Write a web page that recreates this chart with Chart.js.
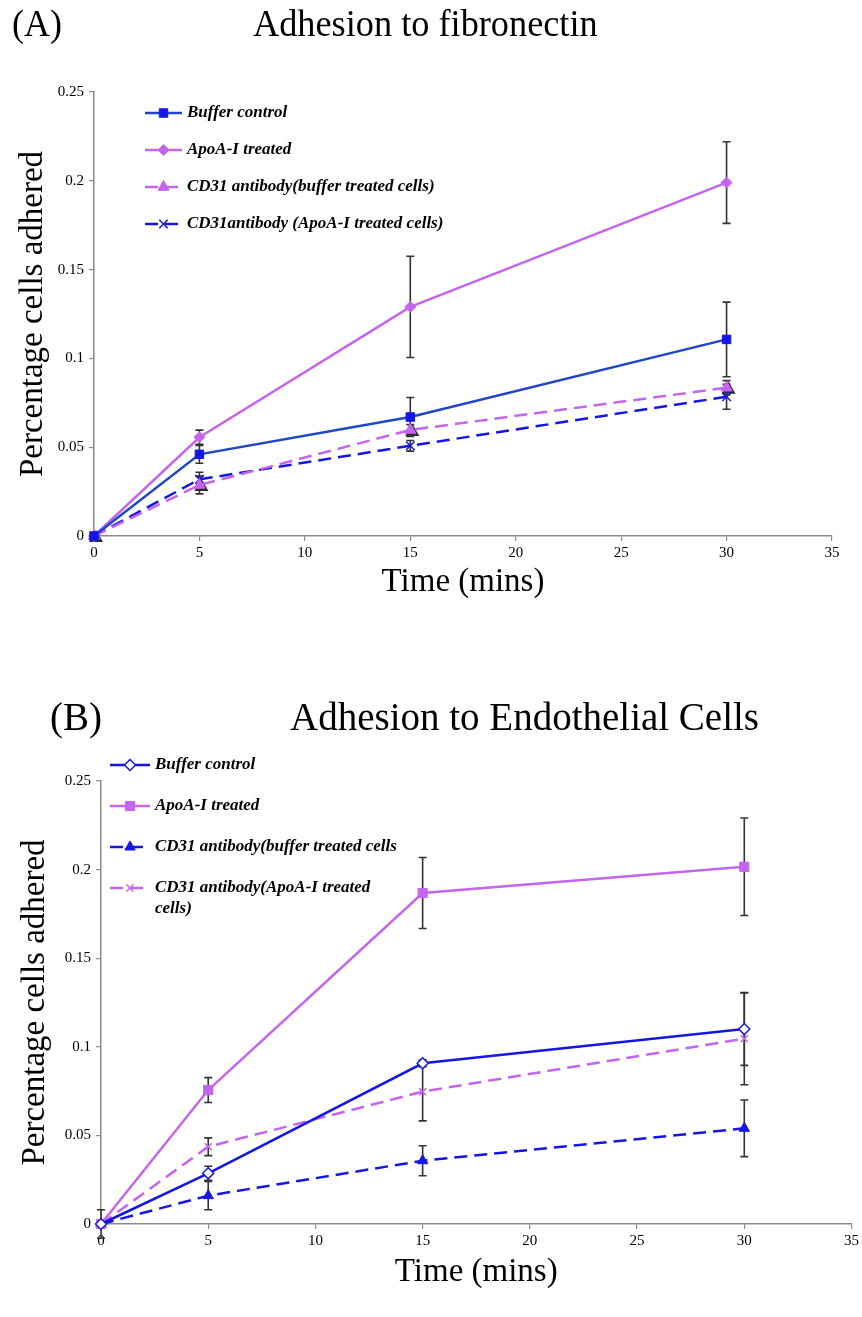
<!DOCTYPE html>
<html>
<head>
<meta charset="utf-8">
<script src="https://cdn.jsdelivr.net/npm/chart.js@4.4.0/dist/chart.umd.min.js"></script>
<style>
  body { margin: 0; background: #fff; width: 862px; height: 1317px; position: relative; overflow: hidden; font-family: 'Liberation Serif', serif; }
  canvas { position: absolute; left: 0; }
  .lbl { position: absolute; z-index: 2; font-size: 38px; line-height: 38px; white-space: nowrap; color: #000; transform-origin: left top; }
</style>
</head>
<body>
<canvas id="chartA" width="862" height="602" style="top:0"></canvas>
<canvas id="chartB" width="862" height="642" style="top:650px"></canvas>
<div class="lbl" style="left:12px;top:4px;transform:scaleX(0.95)">(A)</div>
<div class="lbl" style="left:253px;top:4px;transform:scaleX(0.955)">Adhesion to fibronectin</div>
<div class="lbl" style="left:50px;top:698px;font-size:39px">(B)</div>
<div class="lbl" style="left:290px;top:698px;font-size:39px">Adhesion to Endothelial Cells</div>
<script>
// time points (mins) and axis ticks
const times = [0, 5, 15, 30];
const xTickValues = [0, 5, 10, 15, 20, 25, 30, 35];
const yTickValues = [0, 0.05, 0.1, 0.15, 0.2, 0.25];

// (A) adhesion to fibronectin
const fnBuffer = [0, 0.046, 0.067, 0.1107];
const fnBufferErr = [0, 0.005, 0.011, 0.021];
const fnApoA = [0, 0.0556, 0.129, 0.199];
const fnApoAErr = [0, 0.004, 0.0285, 0.023];
const fnCd31Buffer = [0, 0.0287, 0.0597, 0.0835];
const fnCd31BufferErr = [0, 0.005, 0.003, 0.004];
const fnCd31ApoA = [0, 0.0319, 0.0508, 0.0784];
const fnCd31ApoAErr = [0, 0.004, 0.003, 0.007];

// (B) adhesion to endothelial cells
const ecBuffer = [0, 0.0286, 0.0907, 0.110];
const ecBufferErr = [0, 0.004, 0.002, 0.0205];
const ecApoA = [0, 0.0756, 0.1868, 0.2016];
const ecApoAErr = [0.008, 0.007, 0.02, 0.0275];
const ecCd31Buffer = [0, 0.016, 0.0357, 0.054];
const ecCd31BufferErr = [0, 0.008, 0.0085, 0.016];
const ecCd31ApoA = [0, 0.0436, 0.0747, 0.1046];
const ecCd31ApoAErr = [0, 0.005, 0.0165, 0.026];

const BLUE = '#1616e4';
const BLUE2 = '#1f46c8';
const VIOLET = '#c565ef';
const DASH = [13, 7];

function series(label, values, errs, color, extra) {
    return Object.assign({
        label: label,
        data: values.map((v, i) => ({ x: times[i], y: v })),
        errors: errs,
        borderColor: color,
        backgroundColor: color,
        pointBorderColor: color,
        pointBackgroundColor: color,
        borderWidth: 2.5,
        pointRadius: 5.5,
        pointHoverRadius: 5.5,
        pointBorderWidth: 1,
        tension: 0,
        fill: false,
        clip: false,
    }, extra);
}

// error bars (and the dark marker shadow some series have) drawn under the lines
const errorBars = {
    id: 'errorBars',
    beforeDatasetsDraw(chart) {
        const { ctx, scales: { x, y } } = chart;
        ctx.save();
        chart.data.datasets.forEach(ds => {
            ds.data.forEach((p, i) => {
                const px = x.getPixelForValue(p.x);
                if (ds.shadow) {
                    ctx.fillStyle = ds.shadow;
                    ctx.strokeStyle = ds.shadow;
                    Chart.helpers.drawPoint(ctx, { pointStyle: ds.pointStyle, radius: ds.pointRadius, borderWidth: 1, rotation: 0 }, px + 2, y.getPixelForValue(p.y) + 2);
                }
                const e = ds.errors[i];
                if (!e) return;
                const top = y.getPixelForValue(p.y + e);
                const bot = y.getPixelForValue(p.y - e);
                ctx.strokeStyle = '#333';
                ctx.lineWidth = 1.6;
                ctx.beginPath();
                ctx.moveTo(px, top); ctx.lineTo(px, bot);
                ctx.moveTo(px - 4, top); ctx.lineTo(px + 4, top);
                ctx.moveTo(px - 4, bot); ctx.lineTo(px + 4, bot);
                ctx.stroke();
            });
        });
        ctx.restore();
    }
};

// legend drawn inside the plot, like the original
const insideLegend = {
    id: 'insideLegend',
    afterDraw(chart, args, o) {
        const ctx = chart.ctx;
        ctx.save();
        chart.data.datasets.forEach((ds, i) => {
            const y = o.top + i * o.gap;
            ctx.strokeStyle = ds.borderColor;
            ctx.lineWidth = ds.borderWidth;
            ctx.setLineDash(ds.borderDash || []);
            ctx.beginPath();
            ctx.moveTo(o.x0, y); ctx.lineTo(o.x1, y);
            ctx.stroke();
            ctx.setLineDash([]);
            ctx.fillStyle = ds.pointBackgroundColor;
            ctx.strokeStyle = ds.pointBorderColor;
            ctx.lineWidth = ds.pointBorderWidth;
            Chart.helpers.drawPoint(ctx, { pointStyle: ds.pointStyle, radius: ds.pointRadius, borderWidth: ds.pointBorderWidth, rotation: 0 }, (o.x0 + o.x1) / 2, y);
            ctx.fillStyle = '#000';
            ctx.font = 'italic bold 17px "Liberation Serif"';
            ctx.textBaseline = 'middle';
            ds.label.split('\n').forEach((t, k) => ctx.fillText(t, o.tx, y + k * 21));
        });
        ctx.restore();
    }
};

function axes(yWidth, xHeight, yTitlePad) {
    const tickFont = { family: 'Liberation Serif', size: 15 };
    const titleFont = { family: 'Liberation Serif', size: 33 };
    const grid = { drawOnChartArea: false, tickLength: 5, color: '#8a8a8a', lineWidth: 1.2 };
    const border = { color: '#8a8a8a', width: 1.5 };
    return {
        x: {
            type: 'linear', min: 0, max: 35,
            afterBuildTicks: s => { s.ticks = xTickValues.map(v => ({ value: v })); },
            ticks: { color: '#000', font: tickFont, padding: 3, maxRotation: 0 },
            grid: grid, border: border,
            title: { display: true, text: 'Time (mins)', color: '#000', font: titleFont, padding: { top: 0, bottom: 0 } },
            afterFit: s => { s.height = xHeight; }
        },
        y: {
            min: 0, max: 0.25,
            afterBuildTicks: s => { s.ticks = yTickValues.map(v => ({ value: v })); },
            ticks: { color: '#000', font: tickFont, padding: 5, callback: v => String(+v.toFixed(2)) },
            grid: grid, border: border,
            title: { display: true, text: 'Percentage cells adhered', color: '#000', font: titleFont, padding: { top: yTitlePad, bottom: 0 } },
            afterFit: s => { s.width = yWidth; }
        }
    };
}

function makeChart(id, datasets, layout, legend) {
    return new Chart(document.getElementById(id), {
        type: 'line',
        data: { datasets: datasets },
        options: {
            responsive: false,
            animation: false,
            layout: { padding: layout.padding },
            scales: axes(layout.yWidth, layout.xHeight, layout.yTitlePad),
            plugins: {
                legend: { display: false },
                tooltip: { enabled: false },
                insideLegend: legend
            }
        },
        plugins: [errorBars, insideLegend]
    });
}

makeChart('chartA', [
    series('Buffer control', fnBuffer, fnBufferErr, BLUE2, { pointStyle: 'rect', pointBackgroundColor: BLUE, pointBorderColor: BLUE, pointRadius: 6 }),
    series('ApoA-I treated', fnApoA, fnApoAErr, VIOLET, { pointStyle: 'rectRot', pointRadius: 5.5 }),
    series('CD31 antibody(buffer treated cells)', fnCd31Buffer, fnCd31BufferErr, VIOLET, { pointStyle: 'triangle', pointRadius: 6.5, borderDash: DASH, shadow: '#2a2a2a' }),
    series('CD31antibody (ApoA-I treated cells)', fnCd31ApoA, fnCd31ApoAErr, BLUE, { pointStyle: 'crossRot', pointRadius: 6, pointBorderWidth: 1.5, borderDash: DASH })
], { padding: { top: 92, right: 30, left: 0, bottom: 0 }, yWidth: 94, xHeight: 66, yTitlePad: 14 },
   { x0: 145, x1: 182, tx: 187, top: 113, gap: 37 });

makeChart('chartB', [
    series('Buffer control', ecBuffer, ecBufferErr, BLUE, { pointStyle: 'rectRot', pointRadius: 5.5, pointBackgroundColor: '#fff', pointBorderWidth: 1.5 }),
    series('ApoA-I treated', ecApoA, ecApoAErr, VIOLET, { pointStyle: 'rect', pointRadius: 6.5 }),
    series('CD31 antibody(buffer treated cells', ecCd31Buffer, ecCd31BufferErr, BLUE, { pointStyle: 'triangle', pointRadius: 6, borderDash: DASH }),
    series('CD31 antibody(ApoA-I treated\ncells)', ecCd31ApoA, ecCd31ApoAErr, VIOLET, { pointStyle: 'crossRot', pointRadius: 5, pointBorderWidth: 1.5, borderDash: DASH })
], { padding: { top: 131, right: 9, left: 0, bottom: 0 }, yWidth: 101, xHeight: 68, yTitlePad: 16 },
   { x0: 110, x1: 150, tx: 155, top: 115, gap: 41 });
</script>
</body>
</html>
